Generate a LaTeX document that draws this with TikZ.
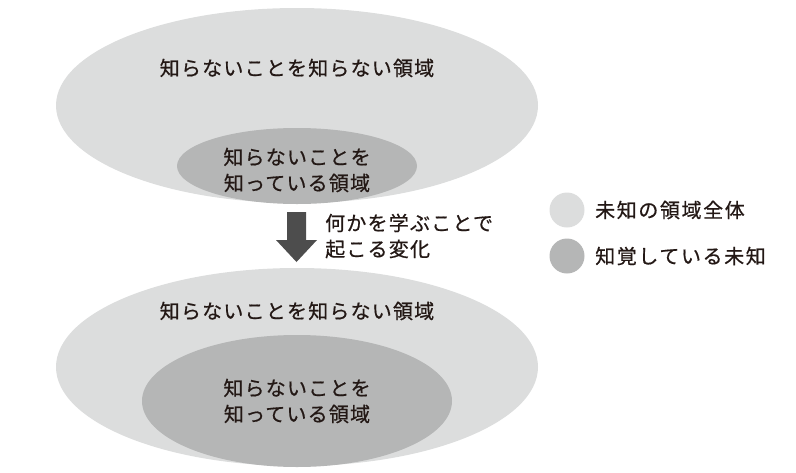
\documentclass[tikz,border=0pt]{standalone}
\usepackage{fontspec}
\setmainfont{Noto Sans CJK JP}[FakeBold=0.6]
\usetikzlibrary{shapes.geometric}
\definecolor{lightg}{HTML}{DCDDDD}
\definecolor{darkg}{HTML}{B5B6B6}
\definecolor{arrowg}{HTML}{4D4D4D}
\definecolor{txt}{HTML}{231815}
\tikzset{
  region/.style={ellipse, fill=#1, draw=none, inner sep=0pt},
  lbl/.style={text=txt, font=\addfontfeatures{LetterSpace=6}\fontsize{20}{26}\selectfont, align=center, inner sep=0pt},
  legdot/.style={circle, fill=#1, draw=none, minimum size=35pt, inner sep=0pt},
  legtext/.style={text=txt, font=\addfontfeatures{LetterSpace=8}\fontsize{20}{26}\selectfont, anchor=west, inner sep=0pt}
}
\begin{document}
\begin{tikzpicture}[x=1pt,y=-1pt]
\useasboundingbox (0,0) rectangle (796,472);
% top
\node[region=lightg, minimum width=482pt, minimum height=195pt] (outerA) at (297,105.5) {};
\node[region=darkg, minimum width=240pt, minimum height=76pt] (innerA) at (297,166) {};
\node[lbl] (tA) at (297,68) {知らないことを知らない領域};
\node[lbl] (iA) at (297,170) {知らないことを\\知っている領域};
% arrow
\fill[arrowg] (287,212) -- (306,212) -- (306,240) -- (317,240) -- (296.5,262) -- (276,240) -- (287,240) -- cycle;
\node[lbl, align=left, anchor=west] (change) at (325,236) {何かを学ぶことで\\起こる変化};
% bottom
\node[region=lightg, minimum width=482pt, minimum height=198pt] (outerB) at (297,367) {};
\node[region=darkg, minimum width=310pt, minimum height=132pt] (innerB) at (297,401) {};
\node[lbl] (tB) at (297,311) {知らないことを知らない領域};
\node[lbl] (iB) at (297,401) {知らないことを\\知っている領域};
% legend
\node[legdot=lightg] (d1) at (567,210) {};
\node[legdot=darkg] (d2) at (567,256) {};
\node[legtext] (l1) at (595,210) {未知の領域全体};
\node[legtext] (l2) at (595,256) {知覚している未知};
\end{tikzpicture}
\end{document}
